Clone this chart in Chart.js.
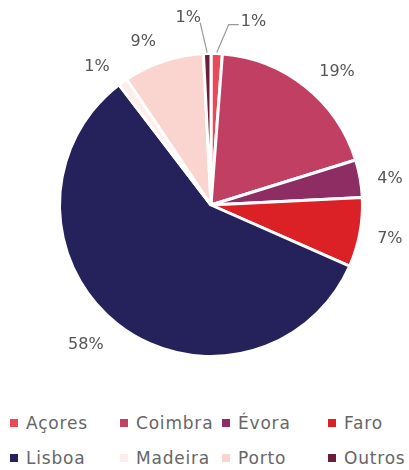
<!DOCTYPE html>
<html><head><meta charset="utf-8">
<script src="https://cdn.jsdelivr.net/npm/chart.js@4/dist/chart.umd.min.js"></script>
<style>
html,body{margin:0;padding:0;background:#fff;}
#wrap{position:relative;width:409px;height:470px;}
#c{position:absolute;left:0;top:0;}
#legend{position:absolute;left:0;top:405px;width:409px;font-family:"DejaVu Sans",sans-serif;font-size:17px;letter-spacing:0.8px;color:#666;}
.item{position:absolute;white-space:nowrap;}
.box{display:inline-block;width:8px;height:8px;margin-right:8px;vertical-align:middle;position:relative;top:-1px;}
</style></head>
<body><div id="wrap"><canvas id="c" width="409" height="405"></canvas><div id="legend"></div></div>
<script>
const categories = ["Açores","Coimbra","Évora","Faro","Lisboa","Madeira","Porto","Outros"];
const values = [1.2, 19.0, 4.0, 7.4, 58.0, 1.0, 8.6, 0.8];
const pctLabels = ["1%","19%","4%","7%","58%","1%","9%","1%"];
const colors = ["#E84A5B","#C13F63","#8D2D63","#DC2126","#25215A","#FDEDEB","#FAD5CF","#6D1E3B"];

const FONT = '"DejaVu Sans", sans-serif';
// callout style per slice: null = plain radial label
const callouts = {7:{dx:-7, dy:-30, anchor:'end'}, 0:{dx:12, dy:-28, hx:10, anchor:'start'}};

const labelPlugin = {
  id:'pctLabels',
  afterDatasetsDraw(chart){
    const ctx = chart.ctx;
    const meta = chart.getDatasetMeta(0);
    ctx.save();
    ctx.font = '16px ' + FONT;
    ctx.fillStyle = '#555';
    ctx.textBaseline = 'middle';
    meta.data.forEach((arc,i)=>{
      const p = arc.getProps(['x','y','startAngle','endAngle','outerRadius'],true);
      const mid = (p.startAngle + p.endAngle)/2;
      const c = callouts[i];
      if(c){
        const sx = p.x + Math.cos(mid)*(p.outerRadius+1);
        const sy = p.y + Math.sin(mid)*(p.outerRadius+1);
        const ex = sx + c.dx, ey = sy + c.dy;
        ctx.strokeStyle = '#999'; ctx.lineWidth = 1.2;
        ctx.beginPath(); ctx.moveTo(sx,sy); ctx.lineTo(ex,ey);
        let tx = ex;
        if(c.hx){ tx = ex + c.hx; ctx.lineTo(tx,ey); }
        ctx.stroke();
        ctx.textAlign = c.anchor==='end' ? 'center' : 'left';
        if(c.anchor==='end') ctx.fillText(pctLabels[i], ex-12, ey-5);
        else ctx.fillText(pctLabels[i], tx+2, ey-3);
      } else {
        const r = p.outerRadius + 16 + 8*Math.abs(Math.sin(mid));
        const lx = p.x + Math.cos(mid)*r, ly = p.y + Math.sin(mid)*r + 3;
        ctx.textAlign = Math.cos(mid) >= 0 ? 'left' : 'right';
        ctx.fillText(pctLabels[i], lx, ly);
      }
    });
    ctx.restore();
  }
};

new Chart(document.getElementById('c'),{
  type:'pie',
  data:{labels:categories,datasets:[{data:values,backgroundColor:colors,borderColor:'#fff',borderWidth:3}]},
  options:{
    responsive:false,animation:false,
    layout:{padding:{top:52,bottom:47,left:58,right:45}},
    plugins:{legend:{display:false},tooltip:{enabled:false}}
  },
  plugins:[labelPlugin]
});

const lg = document.getElementById('legend');
const colX = [10,120,222,328];
categories.forEach((name,i)=>{
  const d = document.createElement('div');
  d.className='item';
  d.style.left = colX[i%4]+'px';
  d.style.top = (i<4?8:43)+'px';
  d.innerHTML = '<span class="box" style="background:'+colors[i]+'"></span>'+name;
  lg.appendChild(d);
});
</script></body></html>
